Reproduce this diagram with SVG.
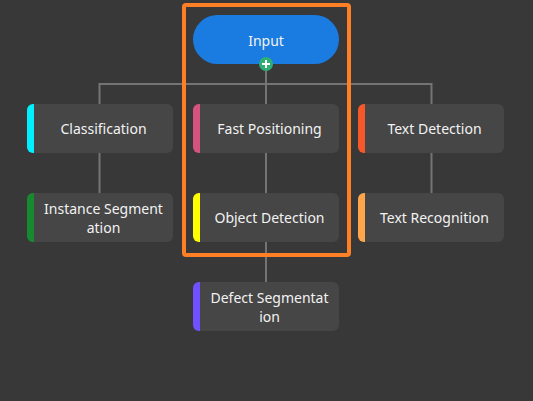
<svg xmlns="http://www.w3.org/2000/svg" xmlns:xlink="http://www.w3.org/1999/xlink" width="533" height="401" viewBox="0 0 533 401">
<style>
.bg{fill:#383838}
.node{fill:#464646}
.lbl{font-family:"Noto Sans","Open Sans",sans-serif;font-size:14px;fill:#f2f2f2;text-anchor:middle}
.conn{stroke:#747474;stroke-width:2;fill:none}
</style>
<defs>
<path id="bar" d="M7 0H6A6 6 0 0 0 0 6V43A6 6 0 0 0 6 49H7Z"/>
<rect id="box" x="0" y="0" width="146" height="49" rx="6"/>
</defs>
<rect class="bg" x="0" y="0" width="533" height="401"/>
<g id="connectors">
<path class="conn" d="M99.5 104V84H431.5V104M266 64V104M99.5 153V193M266 153V193M431.5 153V193M266 242V282"/>
</g>
<g id="input">
<rect x="193" y="15" width="146" height="49" rx="24.5" fill="#1a7be0"/>
<text class="lbl" x="266" y="46">Input</text>
</g>
<g id="plus">
<circle cx="266" cy="64" r="7" fill="#2eae74"/>
<path d="M262 64H270M266 60V68" stroke="#fff" stroke-width="2"/>
</g>
<g id="classification" transform="translate(27,104)">
<use xlink:href="#box" class="node"/>
<use xlink:href="#bar" fill="#00f0ff"/>
<text class="lbl" x="76.5" y="30">Classification</text>
</g>
<g id="instance-segmentation" transform="translate(27,193)">
<use xlink:href="#box" class="node"/>
<use xlink:href="#bar" fill="#178a30"/>
<text class="lbl" x="76.5" y="21">Instance Segment</text>
<text class="lbl" x="76.5" y="40">ation</text>
</g>
<g id="fast-positioning" transform="translate(193,104)">
<use xlink:href="#box" class="node"/>
<use xlink:href="#bar" fill="#d6527f"/>
<text class="lbl" x="76.5" y="30">Fast Positioning</text>
</g>
<g id="object-detection" transform="translate(193,193)">
<use xlink:href="#box" class="node"/>
<use xlink:href="#bar" fill="#ffff00"/>
<text class="lbl" x="76.5" y="30">Object Detection</text>
</g>
<g id="defect-segmentation" transform="translate(193,282)">
<use xlink:href="#box" class="node"/>
<use xlink:href="#bar" fill="#7050ff"/>
<text class="lbl" x="76.5" y="21">Defect Segmentat</text>
<text class="lbl" x="76.5" y="40">ion</text>
</g>
<g id="text-detection" transform="translate(358,104)">
<use xlink:href="#box" class="node"/>
<use xlink:href="#bar" fill="#f6582a"/>
<text class="lbl" x="76.5" y="30">Text Detection</text>
</g>
<g id="text-recognition" transform="translate(358,193)">
<use xlink:href="#box" class="node"/>
<use xlink:href="#bar" fill="#ffa64d"/>
<text class="lbl" x="76.5" y="30">Text Recognition</text>
</g>
<g id="highlight">
<rect x="184" y="5" width="165" height="250" rx="2" fill="none" stroke="#ff7f27" stroke-width="4"/>
</g>
</svg>
